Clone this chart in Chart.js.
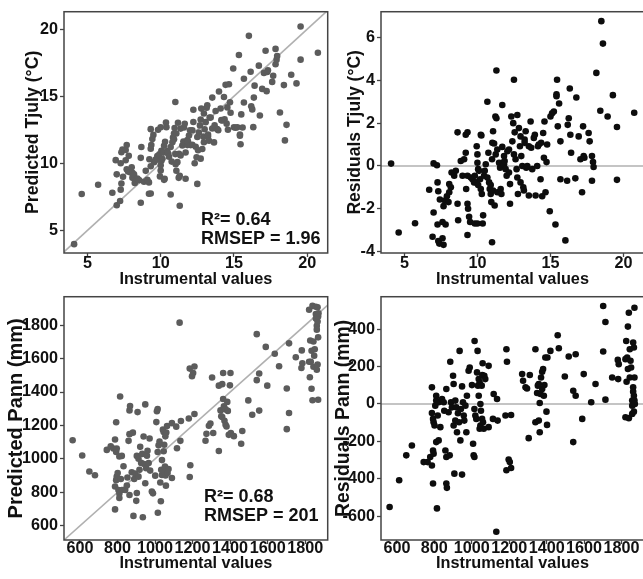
<!DOCTYPE html>
<html>
<head>
<meta charset="utf-8">
<script src="https://cdn.jsdelivr.net/npm/chart.js@4.4.1/dist/chart.umd.min.js"></script>
<style>
  html, body { margin: 0; padding: 0; background: #fff; }
  body { width: 643px; height: 579px; overflow: hidden; position: relative; }
  canvas { position: absolute; }
</style>
</head>
<body>
<canvas id="tjulyPredChart" width="331" height="292" style="left:0px;top:0px"></canvas>
<canvas id="tjulyResChart" width="320" height="292" style="left:330px;top:0px"></canvas>
<canvas id="pannPredChart" width="331" height="294" style="left:0px;top:285px"></canvas>
<canvas id="pannResChart" width="320" height="294" style="left:330px;top:285px"></canvas>
<script>
// Tjuly: instrumental values, residuals, predicted
const tjulyObs = [
  4.09, 4.61, 5.73, 6.70, 7.00, 7.23, 7.00, 7.27, 7.32, 7.43,
  6.93, 7.27, 7.32, 7.39, 7.61, 7.68, 7.61, 7.82, 7.68, 7.77,
  7.91, 8.07, 8.07, 8.02, 8.18, 8.23, 8.41, 8.52, 8.64, 8.64,
  8.68, 8.86, 8.98, 9.09, 9.20, 9.32, 9.20, 9.32, 9.23, 9.32,
  9.36, 9.43, 9.32, 9.55, 9.50, 9.66, 9.77, 9.82, 10.00, 9.82,
  9.91, 10.00, 10.00, 9.95, 10.05, 10.11, 10.05, 10.18, 10.23, 10.27,
  10.23, 10.30, 10.36, 10.39, 10.45, 10.50, 10.57, 10.68, 10.68, 10.75,
  10.80, 10.84, 10.91, 10.91, 10.95, 11.00, 11.00, 11.02, 11.07, 11.07,
  11.14, 11.18, 11.23, 11.30, 11.30, 11.25, 11.36, 11.36, 11.48, 11.55,
  11.59, 11.64, 11.70, 11.70, 11.70, 11.82, 11.82, 11.86, 11.93, 12.00,
  12.05, 12.16, 12.16, 12.23, 12.23, 12.32, 12.39, 12.50, 12.45, 12.50,
  12.55, 12.61, 12.68, 12.73, 12.73, 12.77, 12.84, 12.91, 12.95, 12.95,
  13.00, 13.07, 13.14, 13.18, 13.23, 13.23, 13.30, 13.34, 13.41, 13.52,
  13.52, 13.64, 13.68, 13.75, 13.86, 13.93, 13.98, 14.09, 14.14, 14.20,
  14.32, 14.36, 14.43, 14.50, 14.55, 14.59, 14.66, 14.73, 14.77, 14.95,
  15.00, 15.11, 15.23, 15.34, 15.41, 15.41, 15.45, 15.50, 15.59, 15.68,
  15.68, 16.02, 16.14, 16.18, 16.25, 16.32, 16.36, 16.41, 16.70, 16.77,
  16.93, 17.05, 17.16, 17.23, 17.27, 17.32, 17.61, 17.68, 17.84, 17.84,
  17.91, 17.95, 18.14, 18.41, 18.48, 18.59, 18.91, 19.27, 19.55, 19.55,
  20.73
];
const tjulyRes = [
  0.11, -3.11, -2.68, -1.11, 0.12, 0.03, -2.18, -0.77, -1.18, -1.57,
  -3.31, -2.74, -3.51, -3.63, -3.38, -3.69, -2.62, -2.74, -1.88, -1.62,
  -1.42, -0.85, -1.23, -1.69, -1.00, -0.31, -0.46, -0.23, 1.57, -1.77,
  -2.54, 0.23, -0.46, 0.31, 1.46, 1.57, 0.62, -0.46, -1.08, -1.77,
  -2.00, -2.38, -3.23, -0.54, -2.62, -0.62, -0.77, -2.69, -2.69, -0.46,
  -0.77, 0.54, 0.15, 0.92, -0.15, -0.23, -0.89, -0.62, 1.46, 1.42,
  -1.08, -1.31, -2.69, -2.31, -0.46, -0.23, 0.08, 3.00, -0.54, 0.62,
  -0.77, -1.08, -1.31, -0.89, -1.69, 0.31, -3.57, 1.08, 1.62, -1.15,
  1.05, -1.85, 2.31, 2.23, 4.46, 0.54, -1.23, 0.77, 0.15, -0.08,
  -1.08, -1.31, 2.85, 0.89, 0.15, 0.46, 0.08, 0.23, -0.15, -0.46,
  0.69, 0.77, -0.31, -1.77, -0.85, 2.31, 1.15, 4.03, 2.00, 0.54,
  1.57, 0.31, -0.15, 2.38, -0.54, -1.31, 1.77, 0.92, -0.77, 1.38,
  0.46, 0.00, -1.00, -1.15, 1.23, 1.08, 1.62, -0.08, 0.00, 0.92,
  -1.38, 2.08, 0.85, -0.15, 1.31, 1.46, -1.38, 0.00, 0.92, 1.00,
  -0.62, 1.08, -1.42, 1.54, 0.38, 2.08, -1.23, 0.18, 1.00, -2.12,
  2.31, 2.46, 2.54, -2.74, 3.35, 3.26, 4.03, 1.85, 2.92, -0.62,
  1.15, -3.48, -0.69, 1.92, 2.23, 3.62, 1.46, 0.62, -0.58, 3.20,
  1.38, 0.31, -1.23, 1.85, 0.46, 0.38, 1.54, 1.15, -0.69, 0.46,
  0.18, -0.05, 4.35, 2.58, 6.77, 5.72, 2.31, 3.31, 1.82, -0.65,
  2.49
];
const tjulyPred = [
  3.98, 7.72, 8.41, 7.81, 6.88, 7.20, 9.18, 8.04, 8.50, 9.00,
  10.24, 10.01, 10.83, 11.02, 10.99, 11.37, 10.23, 10.56, 9.56, 9.39,
  9.33, 8.92, 9.30, 9.71, 9.18, 8.54, 8.87, 8.75, 7.07, 10.41,
  11.22, 8.63, 9.44, 8.78, 7.74, 7.75, 8.58, 9.78, 10.31, 11.09,
  11.36, 11.81, 12.55, 10.09, 12.12, 10.28, 10.54, 12.51, 12.69, 10.28,
  10.68, 9.46, 9.85, 9.03, 10.20, 10.34, 10.94, 10.80, 8.77, 8.85,
  11.31, 11.61, 13.05, 12.70, 10.91, 10.73, 10.49, 7.68, 11.22, 10.13,
  11.57, 11.92, 12.22, 11.80, 12.64, 10.69, 14.57, 9.94, 9.45, 12.22,
  10.09, 13.03, 8.92, 9.07, 6.84, 10.71, 12.59, 10.59, 11.33, 11.63,
  12.67, 12.95, 8.85, 10.81, 11.55, 11.36, 11.74, 11.63, 12.08, 12.46,
  11.36, 11.39, 12.47, 14.00, 13.08, 10.01, 11.24, 8.47, 10.45, 11.96,
  10.98, 12.30, 12.83, 10.35, 13.27, 14.08, 11.07, 11.99, 13.72, 11.57,
  12.54, 13.07, 14.14, 14.33, 12.00, 12.15, 11.68, 13.42, 13.41, 12.60,
  14.90, 11.56, 12.83, 13.90, 12.55, 12.47, 15.36, 14.09, 13.22, 13.20,
  14.94, 13.28, 15.85, 12.96, 14.17, 12.51, 15.89, 14.55, 13.77, 17.07,
  12.69, 12.65, 12.69, 18.08, 12.06, 12.15, 11.42, 13.65, 12.67, 16.30,
  14.53, 19.50, 16.83, 14.26, 14.02, 12.70, 14.90, 15.79, 17.28, 13.57,
  15.55, 16.74, 18.39, 15.38, 16.81, 16.94, 16.07, 16.53, 18.53, 17.38,
  17.73, 18.00, 13.79, 15.83, 11.71, 12.87, 16.60, 15.96, 17.73, 20.20,
  18.24
];

// Pann: instrumental values, residuals, predicted
const pannObs = [
  561, 612, 650, 680, 743, 764, 778, 787, 793, 814,
  787, 787, 793, 796, 801, 805, 810, 810, 793, 796,
  810, 823, 832, 818, 823, 841, 850, 864, 853, 859,
  864, 882, 864, 867, 885, 876, 889, 894, 900, 903,
  903, 912, 907, 912, 917, 921, 926, 932, 935, 939,
  942, 948, 948, 953, 957, 960, 966, 971, 974, 983,
  989, 1001, 1007, 1010, 1014, 1015, 1014, 1019, 1024, 1028,
  1031, 1033, 1037, 1037, 1042, 1042, 1046, 1046, 1049, 1053,
  1055, 1056, 1058, 1060, 1064, 1067, 1072, 1090, 1090, 1117,
  1113, 1135, 1138, 1131, 1180, 1185, 1188, 1185, 1197, 1203,
  1210, 1210, 1269, 1274, 1287, 1295, 1304, 1310, 1340, 1340,
  1349, 1353, 1358, 1358, 1363, 1363, 1367, 1370, 1376, 1376,
  1381, 1385, 1388, 1393, 1399, 1402, 1404, 1420, 1459, 1465,
  1497, 1518, 1542, 1555, 1555, 1542, 1590, 1598, 1638, 1661,
  1702, 1702, 1714, 1714, 1750, 1780, 1785, 1782, 1821, 1821,
  1825, 1827, 1830, 1834, 1834, 1839, 1839, 1844, 1844, 1848,
  1851, 1857, 1857, 1857, 1862, 1862, 1866, 1866, 1866, 1869,
  1869, 1869, 1871, 1862
];
const pannRes = [
  -551, -408, -275, -222, -311, -311, -284, -329, -426, -559,
  89, -48, -80, -98, -115, -9, 18, 44, -249, -266,
  -204, -195, -124, -62, 9, 27, 9, 80, -36, -249,
  -284, -275, -426, -449, 226, -44, 9, -18, 151, 107,
  -115, -89, -373, 18, -18, -151, -50, -98, 284, -195,
  -27, 94, -378, 9, -62, -89, -9, -151, 44, 178,
  195, 101, -213, -275, -284, 337, -27, -62, -80, 169,
  284, 98, 44, 133, 115, -133, -115, 0, -36, 98,
  -80, 155, 218, -98, -133, 151, 133, 204, -124, 53,
  -80, 27, -89, -684, -62, 293, 226, -355, -297, -311,
  -343, -59, 160, 124, 89, 83, -183, 155, 293, -98,
  59, 98, 107, -89, 5, -151, 53, 142, 80, 172,
  187, 44, 101, 249, -41, -112, 249, 284, 368, 298,
  147, 254, 71, 266, 44, -204, -80, 160, 9, 107,
  524, 281, 439, 23, 142, 236, 213, 133, 240, -71,
  337, 119, 249, 187, 414, -76, 488, 293, 142, 231,
  195, -9, 18, -53, 329, 66, 302, 44, -41, 515,
  142, 18, 0, 89
];
const pannPred = [
  1112, 1020, 925, 902, 1054, 1075, 1062, 1116, 1219, 1373,
  698, 835, 873, 894, 916, 814, 792, 766, 1042, 1062,
  1014, 1018, 956, 880, 814, 814, 841, 784, 889, 1108,
  1148, 1157, 1290, 1316, 659, 920, 880, 912, 749, 796,
  1018, 1001, 1280, 894, 935, 1072, 976, 1030, 651, 1134,
  969, 854, 1326, 944, 1019, 1049, 975, 1122, 930, 805,
  794, 900, 1220, 1285, 1298, 678, 1041, 1081, 1104, 859,
  747, 935, 993, 904, 927, 1175, 1161, 1046, 1085, 955,
  1135, 901, 840, 1158, 1197, 916, 939, 886, 1214, 1064,
  1193, 1108, 1227, 1815, 1242, 892, 962, 1540, 1494, 1514,
  1553, 1269, 1109, 1150, 1198, 1212, 1487, 1155, 1047, 1438,
  1290, 1255, 1251, 1447, 1358, 1514, 1314, 1228, 1296, 1204,
  1194, 1341, 1287, 1144, 1440, 1514, 1155, 1136, 1091, 1167,
  1350, 1264, 1471, 1289, 1511, 1746, 1670, 1438, 1629, 1554,
  1178, 1421, 1275, 1691, 1608, 1544, 1572, 1649, 1581, 1892,
  1488, 1708, 1581, 1647, 1420, 1915, 1351, 1551, 1702, 1617,
  1656, 1866, 1839, 1910, 1533, 1796, 1564, 1822, 1907, 1354,
  1727, 1851, 1871, 1773
];

// tick labels
const tjulyTicks = [5, 10, 15, 20];
const tjulyResTicks = [-4, -2, 0, 2, 4, 6];
const pannTicks = [600, 800, 1000, 1200, 1400, 1600, 1800];
const pannResTicks = [-600, -400, -200, 0, 200, 400];

// axis limits
const tjulyXRange = [3.4, 21.4];
const tjulyYRange = [3.32, 21.3];
const tjulyResYRange = [-4.07, 7.21];
const pannXRange = [515, 1920];
const pannYRange = [515, 1970];
const pannResYRange = [-728, 574];

// reference lines (1:1 and zero)
const oneToOneTjuly = [3, 22];
const oneToOnePann = [500, 2000];
const zeroLineTjulyX = [3, 22];
const zeroLinePannX = [500, 2000];
const zeroLineY = [0, 0];

// statistics text
const statsTjuly = ['R\u00b2= 0.64', 'RMSEP = 1.96'];
const statsPann = ['R\u00b2= 0.68', 'RMSEP = 201'];

const fontFamily = "'Liberation Sans', Arial, Helvetica, sans-serif";
const textColor = '#111';
const tickSize = 16.2;

function toPoints(xs, ys) {
    return xs.map((x, i) => ({ x: x, y: ys[i] }));
}

// рамка вокруг области построения
const framePlugin = {
    id: 'frame',
    afterDatasetsDraw(chart) {
        const a = chart.chartArea;
        const ctx = chart.ctx;
        ctx.save();
        ctx.strokeStyle = '#444';
        ctx.lineWidth = 1.5;
        ctx.strokeRect(a.left, a.top, a.right - a.left, a.bottom - a.top);
        ctx.restore();
    }
};

function notesPlugin(lines, dx, dy) {
    return {
        id: 'notes',
        afterDraw(chart) {
            if (!lines) return;
            const a = chart.chartArea;
            const ctx = chart.ctx;
            ctx.save();
            ctx.fillStyle = textColor;
            ctx.font = 'bold 18px ' + fontFamily;
            ctx.textAlign = 'left';
            ctx.textBaseline = 'alphabetic';
            lines.forEach((t, i) => {
                ctx.fillText(t, a.left + dx, a.top + dy + i * 19.5);
            });
            ctx.restore();
        }
    };
}

function makePanel(canvasId, p) {
    const ctx = document.getElementById(canvasId).getContext('2d');
    return new Chart(ctx, {
        type: 'scatter',
        data: {
            datasets: [
                {
                    data: toPoints(p.xs, p.ys),
                    backgroundColor: p.color,
                    borderWidth: 0,
                    pointRadius: 3.3,
                    pointHoverRadius: 3.3
                },
                {
                    type: 'line',
                    data: toPoints(p.lineX, p.lineY),
                    borderColor: '#b0b0b0',
                    borderWidth: 1.6,
                    pointRadius: 0,
                    fill: false
                }
            ]
        },
        options: {
            responsive: false,
            animation: false,
            devicePixelRatio: 1,
            layout: { padding: { top: p.padTop, right: p.padRight, left: 0, bottom: 0 } },
            plugins: {
                legend: { display: false },
                tooltip: { enabled: false }
            },
            scales: {
                x: {
                    type: 'linear',
                    position: 'bottom',
                    min: p.xRange[0],
                    max: p.xRange[1],
                    afterBuildTicks: s => { s.ticks = p.xTicks.map(v => ({ value: v })); },
                    afterFit: s => { s.height = p.xAxisHeight; },
                    ticks: {
                        autoSkip: false, maxRotation: 0, minRotation: 0,
                        padding: p.xTickPad,
                        color: textColor,
                        font: { family: fontFamily, size: tickSize, weight: 'bold', lineHeight: 0.6 },
                        callback: v => String(v)
                    },
                    grid: { drawOnChartArea: false, drawTicks: true, tickLength: 4, tickWidth: 1.3, tickColor: '#444' },
                    border: { display: false },
                    title: {
                        display: true,
                        text: 'Instrumental values',
                        color: textColor,
                        font: { family: fontFamily, size: 16.3, weight: 'bold', lineHeight: 1 },
                        padding: { top: 0, bottom: p.xTitlePad }
                    }
                },
                y: {
                    type: 'linear',
                    min: p.yRange[0],
                    max: p.yRange[1],
                    afterBuildTicks: s => { s.ticks = p.yTicks.map(v => ({ value: v })); },
                    afterFit: s => { s.width = p.yAxisWidth; },
                    ticks: {
                        autoSkip: false,
                        padding: 2,
                        color: textColor,
                        font: { family: fontFamily, size: tickSize, weight: 'bold' },
                        callback: v => String(v)
                    },
                    grid: { drawOnChartArea: false, drawTicks: true, tickLength: 4, tickWidth: 1.3, tickColor: '#444' },
                    border: { display: false },
                    title: {
                        display: true,
                        text: p.yTitle,
                        color: textColor,
                        font: { family: fontFamily, size: p.yTitleSize, weight: 'bold', lineHeight: 1 },
                        padding: { top: p.yTitlePad, bottom: 0 }
                    }
                }
            }
        },
        plugins: [framePlugin, notesPlugin(p.notes, p.noteDx, p.noteDy)]
    });
}

makePanel('tjulyPredChart', {
    xs: tjulyObs, ys: tjulyPred, color: '#5c5c5c',
    lineX: oneToOneTjuly, lineY: oneToOneTjuly,
    xRange: tjulyXRange, yRange: tjulyYRange, xTicks: tjulyTicks, yTicks: tjulyTicks,
    yTitle: 'Predicted Tjuly (\u00b0C)', yTitleSize: 17.7, yTitlePad: 24,
    padTop: 7, padRight: 2, yAxisWidth: 64, xAxisHeight: 39, xTickPad: 1.5, xTitlePad: 3.9,
    notes: statsTjuly, noteDx: 137, noteDy: 213
});

makePanel('tjulyResChart', {
    xs: tjulyObs, ys: tjulyRes, color: '#0d0d0d',
    lineX: zeroLineTjulyX, lineY: zeroLineY,
    xRange: tjulyXRange, yRange: tjulyResYRange, xTicks: tjulyTicks, yTicks: tjulyResTicks,
    yTitle: 'Residuals Tjuly (\u00b0C)', yTitleSize: 17.5, yTitlePad: 16.5,
    padTop: 7, padRight: 6, yAxisWidth: 51, xAxisHeight: 39, xTickPad: 1.5, xTitlePad: 3.9,
    notes: null
});

makePanel('pannPredChart', {
    xs: pannObs, ys: pannPred, color: '#5c5c5c',
    lineX: oneToOnePann, lineY: oneToOnePann,
    xRange: pannXRange, yRange: pannYRange, xTicks: pannTicks, yTicks: pannTicks,
    yTitle: 'Predicted Pann (mm)', yTitleSize: 20, yTitlePad: 6,
    padTop: 11, padRight: 2, yAxisWidth: 64, xAxisHeight: 39, xTickPad: 0, xTitlePad: 6.9,
    notes: statsPann, noteDx: 140, noteDy: 205
});

makePanel('pannResChart', {
    xs: pannObs, ys: pannRes, color: '#0d0d0d',
    lineX: zeroLinePannX, lineY: zeroLineY,
    xRange: pannXRange, yRange: pannResYRange, xTicks: pannTicks, yTicks: pannResTicks,
    yTitle: 'Residuals Pann (mm)', yTitleSize: 19.4, yTitlePad: 3.5,
    padTop: 11, padRight: 6, yAxisWidth: 51, xAxisHeight: 39, xTickPad: 0, xTitlePad: 6.9,
    notes: null
});
</script>
</body>
</html>
